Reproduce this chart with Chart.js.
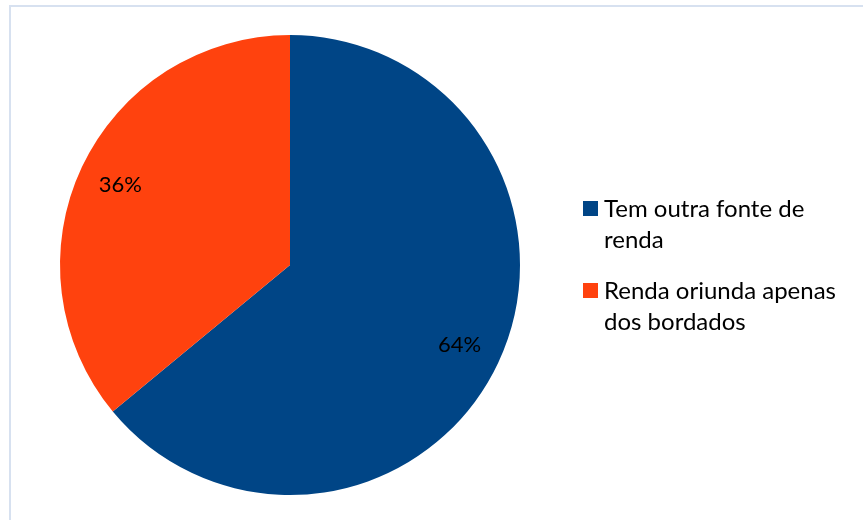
<!DOCTYPE html>
<html>
<head>
<meta charset="utf-8">
<script src="https://cdn.jsdelivr.net/npm/chart.js@4"></script>
<style>
  html, body { margin: 0; padding: 0; background: #fff; overflow: hidden; }
  body { width: 863px; height: 520px; position: relative; font-family: Lato, "Noto Sans", sans-serif; }
  #frame { position: absolute; left: 9px; top: 5px; width: 900px; height: 600px; border-left: 2px solid #d7e1f0; border-top: 2px solid #d7e1f0; }
  #wrap { position: absolute; left: 0; top: 0; width: 863px; height: 520px; }
  #legend { position: absolute; left: 583px; top: 192px; color: #000; font-size: 24px; line-height: 31px; }
  .item { display: flex; align-items: flex-start; margin-bottom: 20px; }
  .box { width: 15px; height: 15px; margin-top: 9px; margin-right: 6px; flex: none; }
</style>
</head>
<body>
<div id="frame"></div>
<div id="wrap"><canvas id="myChart" width="863" height="520"></canvas></div>
<div id="legend"></div>
<script>
// Dados do gráfico
let categorias = ['Tem outra fonte de renda', 'Renda oriunda apenas dos bordados'];
let linhasLegenda = [['Tem outra fonte de', 'renda'], ['Renda oriunda apenas', 'dos bordados']];
let valores = [64, 36];
let cores = ['#004586', '#ff420e'];

// Rótulos de porcentagem dentro das fatias
const rotulos = {
    id: 'rotulos',
    afterDatasetsDraw(chart) {
        let ctx = chart.ctx;
        let meta = chart.getDatasetMeta(0);
        let total = valores.reduce((a, b) => a + b, 0);
        ctx.save();
        ctx.font = '22px Lato, "Noto Sans", sans-serif';
        ctx.fillStyle = '#000';
        ctx.textAlign = 'center';
        ctx.textBaseline = 'middle';
        meta.data.forEach((arc, i) => {
            let p = arc.getProps(['x', 'y', 'startAngle', 'endAngle', 'outerRadius'], true);
            let meio = (p.startAngle + p.endAngle) / 2;
            let r = p.outerRadius * 0.815;
            let texto = Math.round(valores[i] / total * 100) + '%';
            ctx.fillText(texto, p.x + Math.cos(meio) * r, p.y + Math.sin(meio) * r);
        });
        ctx.restore();
    }
};

let ctx = document.getElementById('myChart').getContext('2d');
let myChart = new Chart(ctx, {
    type: 'pie',
    data: {
        labels: categorias,
        datasets: [{
            data: valores,
            backgroundColor: cores,
            borderWidth: 0
        }]
    },
    options: {
        responsive: false,
        animation: false,
        layout: { padding: { left: 60, top: 35, right: 343, bottom: 25 } },
        plugins: {
            legend: { display: false },
            tooltip: { enabled: false }
        }
    },
    plugins: [rotulos]
});

// Legenda
let leg = document.getElementById('legend');
linhasLegenda.forEach((linhas, i) => {
    let item = document.createElement('div');
    item.className = 'item';
    item.innerHTML = '<div class="box" style="background:' + cores[i] + '"></div><div>' + linhas.join('<br>') + '</div>';
    leg.appendChild(item);
});
</script>
</body>
</html>
